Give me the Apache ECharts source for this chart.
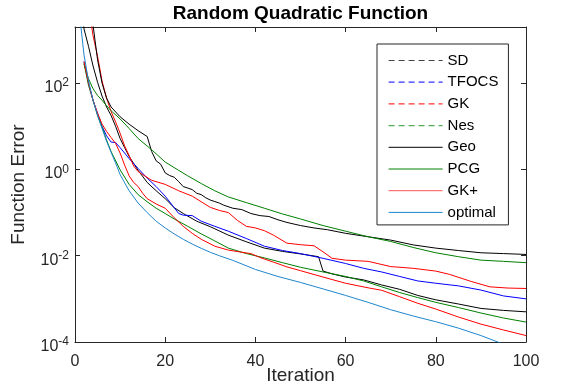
<!DOCTYPE html>
<html>
<head>
<meta charset="utf-8">
<script src="https://cdn.jsdelivr.net/npm/echarts@6/dist/echarts.min.js"></script>
<style>html,body{margin:0;padding:0;background:#fff}#c{width:581px;height:388px}</style>
</head>
<body>
<div id="c"></div>
<script>
// [iteration, function error] pairs
const sdData = [[0,1e6],[1,2e4],[2,1.8e3],[3,7.1e2],[4,2.5e2],[5,1.05e2],[6,50],[7,28],[8,17.8],[9,10],[10,5.2],[11,3.2],[12,2.0],[14,0.95],[16,0.5],[18,0.32],[20,0.21],[22,0.13],[24,0.095],[27,0.063],[30,0.047],[34,0.030],[38,0.021],[42,0.015],[46,0.0126],[50,0.011],[54,0.0095],[55,0.0044],[57,0.0038],[60,0.0032],[64,0.00275],[68,0.0021],[72,0.00166],[76,0.0012],[80,9.5e-4],[85,7.6e-4],[90,6.0e-4],[95,5.4e-4],[100,5.0e-4]];
const tfocsData = [[2,316],[3,100],[4,40],[5,20],[6,10],[7,6.0],[8,4.3],[9,4.2],[10,3.2],[11,2.4],[12,1.78],[14,1.05],[16,0.63],[18,0.40],[20,0.24],[22,0.13],[23,0.095],[24,0.087],[26,0.085],[28,0.063],[31,0.048],[34,0.037],[38,0.025],[42,0.0166],[46,0.0132],[50,0.0112],[55,0.0087],[60,0.0066],[64,0.0051],[68,0.0042],[72,0.0033],[76,0.0026],[80,0.0023],[85,0.0020],[90,0.0016],[95,0.00117],[100,0.0010]];
const gkData = [[0,1e6],[3,6.3e3],[4,1.26e3],[5,4.2e2],[6,112],[7,45],[8,22],[9,12.6],[10,6.9],[11,3.5],[12,2.1],[13,1.2],[14,0.89],[15,0.76],[17,0.56],[20,0.45],[23,0.32],[26,0.24],[28,0.178],[30,0.132],[32,0.112],[34,0.10],[36,0.066],[38,0.048],[40,0.044],[42,0.038],[44,0.030],[47,0.0195],[50,0.018],[53,0.017],[55,0.0123],[57,0.0087],[60,0.0079],[65,0.0074],[70,0.0056],[75,0.0051],[80,0.0044],[83,0.0037],[88,0.0025],[92,0.0019],[96,0.00178],[100,0.00174]];
const nesData = [[2,282],[3,89],[4,40],[5,17.8],[6,9.5],[7,4.8],[8,2.6],[10,0.98],[12,0.45],[14,0.26],[16,0.178],[18,0.126],[20,0.095],[22,0.071],[25,0.048],[28,0.032],[31,0.022],[34,0.015],[38,0.0112],[42,0.0089],[46,0.0069],[50,0.0054],[55,0.0042],[60,0.0033],[64,0.0026],[68,0.0019],[72,0.0014],[76,0.00107],[80,8.3e-4],[85,6.3e-4],[90,4.7e-4],[95,3.6e-4],[100,2.9e-4]];
const geoData = [[0,1e6],[3,3.2e4],[4,2.2e3],[5,3.5e2],[6,100],[7,45],[8,28],[10,16.6],[12,11.2],[14,7.9],[16,5.8],[17,2.6],[18,1.58],[19,1.32],[20,0.83],[21,0.72],[22,0.66],[23,0.52],[24,0.40],[25,0.37],[26,0.34],[27,0.28],[28,0.26],[29,0.22],[30,0.195],[31,0.18],[32,0.166],[33,0.148],[35,0.126],[37,0.117],[39,0.095],[41,0.085],[43,0.081],[45,0.068],[47,0.059],[50,0.050],[53,0.044],[56,0.040],[60,0.033],[65,0.0275],[70,0.023],[75,0.0178],[80,0.015],[85,0.0132],[90,0.0117],[95,0.0112],[100,0.0107]];
const pcgData = [[2,282],[3,126],[4,74],[5,52],[6,40],[7,30],[8,23],[10,14.8],[12,8.9],[14,5.2],[16,3.5],[18,2.3],[20,1.48],[23,0.95],[25,0.71],[28,0.47],[31,0.32],[34,0.23],[38,0.17],[42,0.126],[46,0.093],[50,0.071],[55,0.050],[60,0.037],[65,0.0275],[70,0.0214],[75,0.0155],[80,0.0117],[85,0.0095],[90,0.0079],[95,0.0074],[100,0.0069]];
const gkPlusData = [[2,316],[3,100],[4,40],[5,20],[6,11.2],[7,7.6],[8,5.5],[9,4.0],[10,2.4],[11,1.26],[12,0.71],[13,0.5],[14,0.40],[15,0.28],[16,0.21],[18,0.158],[20,0.126],[22,0.076],[24,0.048],[26,0.033],[28,0.024],[31,0.0166],[34,0.0135],[37,0.012],[39,0.0112],[41,0.0091],[44,0.0071],[47,0.0055],[50,0.0045],[55,0.0032],[60,0.0023],[65,0.0018],[68,0.00158],[72,0.00112],[76,7.9e-4],[80,5.8e-4],[85,3.8e-4],[90,2.6e-4],[95,1.9e-4],[100,1.41e-4]];
const optimalData = [[0,3.2e5],[1,4.0e3],[2,4.5e2],[3,112],[4,40],[5,17.8],[6,8.9],[7,4.5],[8,2.5],[9,1.41],[10,0.76],[12,0.32],[14,0.166],[16,0.10],[18,0.063],[20,0.044],[22,0.032],[24,0.024],[26,0.0186],[28,0.0148],[30,0.012],[32,0.010],[35,0.0078],[40,0.0048],[45,0.0033],[50,0.0024],[55,0.0017],[60,0.0012],[65,8.3e-4],[70,5.6e-4],[75,4.0e-4],[80,2.95e-4],[85,2.1e-4],[90,1.41e-4],[95,8.9e-5],[100,5.6e-5]];

const seriesNames = ['SD','TFOCS','GK','Nes','Geo','PCG','GK+','optimal'];
const seriesColors = ['#000000','#0000ff','#ff0000','#008000','#000000','#008000','#ff0000','#1f86cc'];
const legendColors = ['#444444','#3333ff','#ff3333','#55aa55','#000000','#008000','#ff5555','#1f86cc'];
const seriesDashed = [true,true,true,true,false,false,false,false];
const seriesData = [sdData,tfocsData,gkData,nesData,geoData,pcgData,gkPlusData,optimalData];
const yTicks = [1e-4,1e-2,1,1e2];

const FONT = 'Liberation Sans, Arial, Helvetica, sans-serif';
const AX = '#262626';

const chart = echarts.init(document.getElementById('c'), null, {renderer:'canvas', width: 581, height: 388});

const yLabelFmt = v => '10{s|' + Math.round(Math.log10(v)) + '}';

const option = {
  animation: false,
  backgroundColor: '#fff',
  title: {
    text: 'Random Quadratic Function',
    left: 300.5, textAlign: 'center', top: 4, padding: 0,
    textStyle: {fontFamily: FONT, fontWeight: 'bold', fontSize: 19, color: '#000'}
  },
  grid: {left: 75, right: 55, top: 27, bottom: 46, containLabel: false, outerBoundsMode: 'none'},
  legend: {
    orient: 'vertical', left: 377, top: 44,
    padding: [9, 10, 5, 11],
    itemWidth: 54, itemHeight: 14, itemGap: 6.7,
    backgroundColor: '#fff', borderColor: AX, borderWidth: 1, borderRadius: 0,
    textStyle: {fontFamily: FONT, fontSize: 15, color: '#000'},
    itemStyle: {opacity: 0},
    data: seriesNames.map((n, i) => ({
      name: n,
      itemStyle: {opacity: 0},
      lineStyle: {color: legendColors[i], width: seriesDashed[i] ? 1.2 : 1, type: seriesDashed[i] ? [6, 4] : 'solid'}
    }))
  },
  xAxis: [{
    type: 'value', min: 0, max: 100, interval: 20,
    name: 'Iteration', nameLocation: 'middle', nameGap: 24, nameMoveOverlap: false,
    nameTextStyle: {fontFamily: FONT, fontSize: 19, color: AX},
    axisLine: {show: true, onZero: false, lineStyle: {color: AX, width: 1}},
    axisTick: {show: true, inside: true, length: 5, lineStyle: {color: AX}},
    axisLabel: {fontFamily: FONT, fontSize: 16, color: AX, margin: 12},
    splitLine: {show: false}
  }, {
    type: 'value', min: 0, max: 100, interval: 20, position: 'top',
    axisLine: {show: true, onZero: false, lineStyle: {color: AX, width: 1}},
    axisTick: {show: true, inside: true, length: 5, lineStyle: {color: AX}},
    axisLabel: {show: false}, splitLine: {show: false}
  }],
  yAxis: [{
    type: 'log', min: 1e-4, max: 2000, logBase: 10,
    name: 'Function Error', nameLocation: 'middle', nameGap: 47, nameRotate: 90, nameMoveOverlap: false,
    nameTextStyle: {fontFamily: FONT, fontSize: 19, color: AX},
    axisLine: {show: true, onZero: false, lineStyle: {color: AX, width: 1}},
    axisTick: {show: true, inside: true, length: 5, lineStyle: {color: AX}, customValues: yTicks},
    axisLabel: {
      customValues: yTicks, margin: 6, formatter: yLabelFmt,
      fontFamily: FONT, fontSize: 16, color: AX, padding: [9, 0, 0, 0],
      rich: {s: {fontFamily: FONT, fontSize: 12, color: AX, padding: [0, 0, 9, 0]}}
    },
    minorTick: {show: false}, splitLine: {show: false}
  }, {
    type: 'log', min: 1e-4, max: 2000, logBase: 10, position: 'right',
    axisLine: {show: true, onZero: false, lineStyle: {color: AX, width: 1}},
    axisTick: {show: true, inside: true, length: 5, lineStyle: {color: AX}, customValues: yTicks},
    axisLabel: {show: false, customValues: yTicks}, splitLine: {show: false}
  }],
  series: seriesNames.map((n, i) => ({
    name: n, type: 'line', xAxisIndex: 0, yAxisIndex: 0,
    data: seriesData[i], showSymbol: false, symbol: 'none',
    clip: true, smooth: false,
    lineStyle: {color: seriesColors[i], width: 1},
    itemStyle: {color: seriesColors[i]},
    emphasis: {disabled: true}
  }))
};
chart.setOption(option);
</script>
</body>
</html>
